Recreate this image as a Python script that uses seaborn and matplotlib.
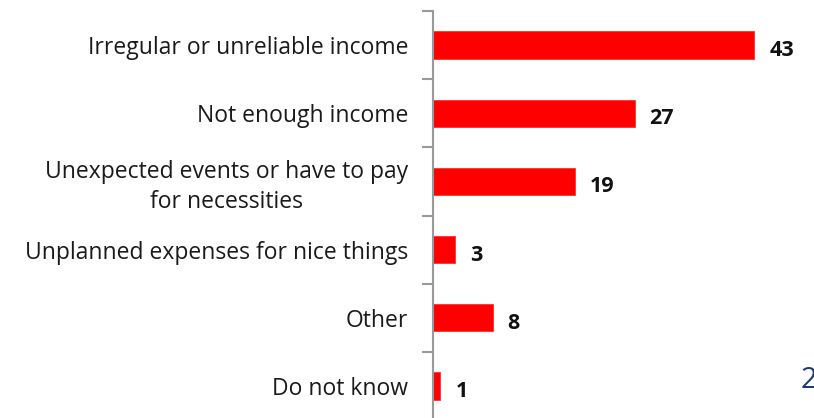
import matplotlib
matplotlib.use("Agg")
import matplotlib.pyplot as plt
import seaborn as sns
import pandas as pd

categories = [
    "Irregular or unreliable income",
    "Not enough income",
    "Unexpected events or have to pay\nfor necessities",
    "Unplanned expenses for nice things",
    "Other",
    "Do not know",
]
values = [43, 27, 19, 3, 8, 1]

df = pd.DataFrame({"reason": categories, "share": values})

sns.set_theme(style="white")
plt.rcParams["font.family"] = ["Open Sans", "DejaVu Sans"]

fig = plt.figure(figsize=(8.14, 4.18), dpi=100)
ax = fig.add_axes([433 / 814, -2 / 418, 381 / 814, 409 / 418])

sns.barplot(data=df, y="reason", x="share", orient="h", color="#ff0000",
            saturation=1, width=0.4, ax=ax, edgecolor="#ff3030", linewidth=0.6)

ax.set_xlim(0, 381 / 7.47)
ax.set_ylim(len(categories) - 0.5, -0.5)
ax.set_xlabel("")
ax.set_ylabel("")
ax.set_xticks([])

for s in ["top", "right", "bottom"]:
    ax.spines[s].set_visible(False)
ax.spines["left"].set_color("#999999")
ax.spines["left"].set_linewidth(1.5)

ax.set_yticks(range(len(categories)))
ax.set_yticklabels(categories, fontsize=16.5, color="#1a1a1a",
                   multialignment="center", linespacing=1.3)
ax.tick_params(axis="y", which="major", length=0, pad=18)
ax.set_yticks([i - 0.5 for i in range(len(categories) + 1)], minor=True)
ax.tick_params(axis="y", which="minor", length=8, width=1.5, color="#999999", left=True)

for i, v in enumerate(values):
    ax.text(v + 2.0, i + 0.08, str(v), va="center", ha="left",
            fontsize=15.5, fontweight="bold", color="#111111")

# page number in the lower-right corner, partly beyond the edge
fig.text(801 / 814, 1 - 381 / 418, "2", fontsize=21, color="#1f3a73",
         ha="left", va="center")

fig.savefig("out.png", dpi=100)
